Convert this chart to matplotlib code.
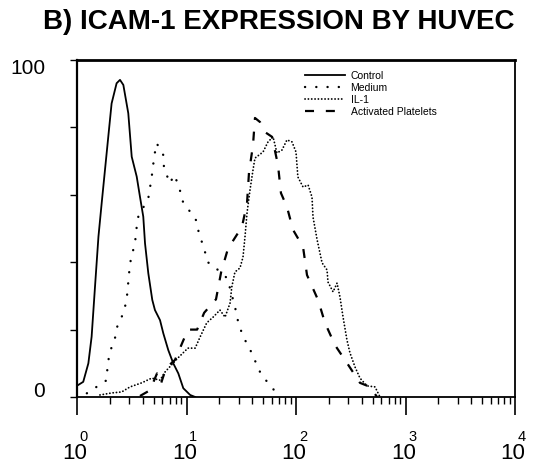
import matplotlib
matplotlib.use("Agg")
import matplotlib.pyplot as plt
from matplotlib.ticker import FixedLocator, NullFormatter, LogLocator

plt.rcParams['font.family'] = ['Liberation Sans', 'DejaVu Sans']
plt.rcParams['lines.scale_dashes'] = False

# ---- data (fluorescence intensity, % of max) ----
control_x = [1.03, 1.14, 1.27, 1.36, 1.46, 1.57, 1.68, 1.93, 2.07, 2.30, 2.47, 2.65, 2.94,
             3.16, 3.51, 3.76, 4.03, 4.18, 4.48, 4.87, 5.15, 5.73, 6.14, 6.82, 7.57, 8.42,
             9.35, 10.8, 12.0]
control_y = [3.6, 4.5, 10.0, 17.9, 32.7, 47.6, 57.5, 77.2, 87.1, 93.1, 94.1, 92.6, 84.2,
             71.3, 65.4, 59.4, 53.5, 45.6, 36.7, 28.8, 25.8, 22.8, 18.9, 13.9, 10.0, 7.0,
             2.6, 0.6, 0.0]

medium_x = [1.23, 1.87, 1.90, 2.00, 2.22, 2.35, 2.65, 2.84, 3.00, 3.11, 3.39, 3.46, 3.63,
            4.48, 4.71, 4.91, 5.05, 5.34, 6.14, 6.23, 7.07, 7.69, 8.60, 9.04, 10.5, 12.2,
            13.1, 14.5, 15.5, 18.6, 23.6, 27.7, 29.4, 32.4, 36.2, 40.7, 45.3, 52.1, 62.1,
            71.0]
medium_y = [1.1, 5.0, 9.5, 13.4, 17.4, 21.4, 24.8, 28.8, 37.2, 41.2, 45.6, 49.1, 53.5,
            59.0, 63.4, 67.4, 71.1, 75.3, 71.8, 67.9, 63.4, 65.9, 62.4, 58.5, 55.5, 52.5,
            48.1, 44.1, 40.1, 38.2, 35.2, 26.8, 22.8, 18.4, 15.4, 12.2, 8.2, 5.3, 2.3,
            0.0]

il1_x = [1.62, 2.07, 2.56, 3.05, 3.90, 4.81, 5.73, 6.36, 7.53, 8.36, 10.3, 12.0, 13.3,
         15.3, 17.5, 20.2, 22.5, 25.0, 25.9, 27.7, 30.8, 32.8, 34.2, 35.7, 38.0, 40.5,
         42.2, 50.0, 55.5, 61.7, 67.0, 74.5, 82.7, 91.9, 100, 104, 116, 129, 140, 143,
         156, 173, 192, 196, 218, 237, 252, 269, 292, 311, 346, 384, 445, 527, 561, 585]
il1_y = [0.6, 1.2, 1.5, 3.0, 4.2, 5.6, 5.0, 7.4, 10.0, 11.6, 14.5, 14.5, 17.8,
         22.0, 23.7, 25.8, 23.7, 27.9, 32.6, 37.1, 38.3, 41.5, 47.5, 54.6, 61.4, 67.4,
         70.9, 72.7, 75.7, 77.2, 72.4, 73.3, 76.3, 75.7, 72.7, 65.3, 62.3, 62.9, 59.3, 53.4,
         46.6, 39.8, 37.7, 34.1, 31.2, 33.8, 29.7, 23.7, 16.9, 13.1, 8.9, 5.6, 3.3, 3.0, 1.2, 0.0]

plate_x = [3.76, 4.64, 5.38, 5.85, 6.50, 7.85, 10.3, 12.5, 14.5, 18.6, 20.7, 23.9, 32.1,
           35.7, 37.2, 40.5, 42.2, 46.9, 52.1, 60.4, 68.5, 72.9, 82.7, 94.0, 116, 126,
           159, 184, 227, 292, 384, 474, 550]
plate_y = [0.3, 2.0, 7.0, 4.0, 8.6, 11.0, 20.0, 20.0, 25.0, 29.0, 37.0, 44.0, 50.5,
           57.5, 66.5, 74.8, 82.8, 81.6, 78.6, 77.2, 68.8, 60.5, 56.4, 49.6, 44.5, 36.2,
           28.8, 22.0, 15.4, 10.1, 4.2, 3.0, 0.0]

labels = ['Control', 'Medium', 'IL-1', 'Activated Platelets']
x_ticks = [1, 10, 100, 1000, 10000]
x_tick_base = '10'
x_tick_exponents = ['0', '1', '2', '3', '4']
y_ticks = [0, 20, 40, 60, 80, 100]
y_label_values = [0, 100]
y_label_texts = ['0', '100']
title = 'B) ICAM-1 EXPRESSION BY HUVEC'

fig = plt.figure(figsize=(5.5, 4.69), dpi=100)
ax = fig.add_axes([77/550, 1 - 397/469, (515-77)/550, (397-60)/469])

ax.plot(control_x, control_y, color='black', lw=1.3, linestyle='-', label=labels[0])
ax.plot(medium_x, medium_y, color='black', lw=1.7, linestyle=(0, (0.1, 8.0)),
        dash_capstyle='round', label=labels[1])
ax.plot(il1_x, il1_y, color='black', lw=1.3, linestyle=(0, (0.1, 2.3)),
        dash_capstyle='round', label=labels[2])
ax.plot(plate_x, plate_y, color='black', lw=1.6, linestyle=(0, (6.5, 8.5)),
        label=labels[3])

ax.set_xscale('log')
ax.set_xlim(1, 10000)
ax.set_ylim(0, 100)

ax.xaxis.set_major_locator(FixedLocator(x_ticks))
ax.xaxis.set_major_formatter(NullFormatter())
ax.xaxis.set_minor_locator(LogLocator(base=10, subs=range(2, 10)))
ax.xaxis.set_minor_formatter(NullFormatter())
ax.tick_params(axis='x', which='major', direction='out', length=13, width=1.2)
ax.tick_params(axis='x', which='minor', direction='out', length=5, width=1.0)

ax.set_yticks(y_ticks)
ax.yaxis.set_major_formatter(NullFormatter())
ax.tick_params(axis='y', which='major', direction='out', length=5, width=1.0)

# x tick labels: "10" with raised exponent
for v, e in zip(x_ticks, x_tick_exponents):
    ax.annotate(x_tick_base, xy=(v, 0), xycoords=('data', 'axes fraction'),
                xytext=(-1.5, -41), textcoords='offset points',
                ha='center', va='center', fontsize=16, annotation_clip=False)
    ax.annotate(e, xy=(v, 0), xycoords=('data', 'axes fraction'),
                xytext=(2.0, -29), textcoords='offset points',
                ha='left', va='center', fontsize=10.5, annotation_clip=False)

# y tick labels
for v, t in zip(y_label_values, y_label_texts):
    dy = 4.3 if v == 0 else -5.8
    ax.annotate(t, xy=(0, v), xycoords=('axes fraction', 'data'),
                xytext=(-23, dy), textcoords='offset points',
                ha='right', va='center', fontsize=15, annotation_clip=False)

ax.spines['top'].set_linewidth(2.0)
ax.spines['left'].set_linewidth(1.6)
ax.spines['bottom'].set_linewidth(1.3)
ax.spines['right'].set_linewidth(1.3)

leg = ax.legend(loc='upper left', bbox_to_anchor=(0.52, 0.968), frameon=False,
                fontsize=7.5, handlelength=3.9, handletextpad=0.5, labelspacing=0.2,
                borderpad=0, borderaxespad=0)

fig.text(279/550, 1 - 22/469, title, ha='center', va='center', fontsize=20,
         fontweight='bold')

fig.savefig('out.png', dpi=100)
